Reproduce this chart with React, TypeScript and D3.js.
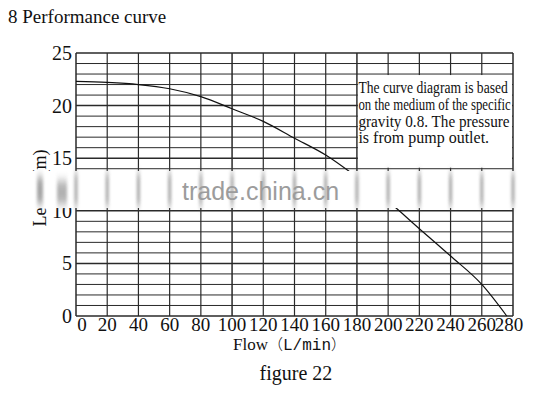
import React from "react";
import * as d3 from "d3";

const flow = [0, 20, 40, 60, 80, 100, 120, 140, 160, 180, 200, 220, 240, 260, 276];
const head = [22.3, 22.2, 22.0, 21.6, 20.85, 19.7, 18.5, 16.9, 15.3, 13.2, 10.9, 8.3, 5.7, 3.0, 0];
const xTicks = [0, 20, 40, 60, 80, 100, 120, 140, 160, 180, 200, 220, 240, 260, 280];
const yTicks = [0, 5, 10, 15, 20, 25];
const yGrid = d3.range(0, 26, 1);
const noteLines = [
  "The curve diagram is based",
  "on the medium of the specific",
  "gravity 0.8. The pressure",
  "is from pump outlet.",
];
const noteScale = [0.85, 0.8, 0.95, 1.0];
const title = "8 Performance curve";
const yLabel = "Length(m)";
const caption = "figure 22";
const watermark = "trade.china.cn";

export default function App() {
  const x = d3.scaleLinear().domain([0, 280]).range([76, 513]);
  const y = d3.scaleLinear().domain([0, 25]).range([316, 53]);
  const line = d3
    .line<number>()
    .x((_, i) => x(flow[i]))
    .y((d) => y(d))
    .curve(d3.curveMonotoneX);
  const serif = "'Liberation Serif', 'Times New Roman', serif";
  const gridColor = "#2a2a2a";
  const boxX0 = x(180);
  const boxX1 = x(280);
  const boxY0 = y(23);
  const boxY1 = y(14);
  const bandY0 = 171;
  const bandY1 = 208;
  return (
    <svg
      width={538}
      height={400}
      style={{ position: "absolute", left: 0, top: 0, background: "#fff" }}
    >
      <defs>
        <filter id="blurV" x="-200%" y="-50%" width="500%" height="200%">
          <feGaussianBlur stdDeviation="1.6 5" />
        </filter>
      </defs>
      <rect x={0} y={0} width={538} height={400} fill="#fff" />
      <text x={8} y={23} fontFamily={serif} fontSize={19} fill="#111">
        {title}
      </text>
      {yGrid.map((v) => (
        <line
          key={"h" + v}
          x1={x(0)}
          x2={x(280)}
          y1={y(v)}
          y2={y(v)}
          stroke={gridColor}
          strokeWidth={v % 5 === 0 ? 1.5 : 1}
        />
      ))}
      {xTicks.map((v) => (
        <line
          key={"v" + v}
          x1={x(v)}
          x2={x(v)}
          y1={y(0)}
          y2={y(25)}
          stroke={gridColor}
          strokeWidth={v === 100 || v === 180 || v === 0 || v === 280 ? 1.5 : 1.2}
        />
      ))}
      <rect
        x={boxX0 + 1}
        y={boxY0 + 1}
        width={boxX1 - boxX0 - 2}
        height={boxY1 - boxY0 - 2}
        fill="#fff"
      />
      {noteLines.map((t, i) => (
        <g key={t} transform={`translate(${boxX0 + 1.5},${93 + i * 16.8}) scale(${noteScale[i]},1)`}>
          <text x={0} y={0} fontFamily={serif} fontSize={16} fill="#111">
            {t}
          </text>
        </g>
      ))}
      <path d={line(head) || ""} fill="none" stroke="#111" strokeWidth={1.2} />
      {yTicks.map((v) => (
        <text
          key={"yt" + v}
          x={72}
          y={y(v)}
          dy="0.35em"
          textAnchor="end"
          fontFamily={serif}
          fontSize={20}
          fill="#111"
        >
          {v}
        </text>
      ))}
      {xTicks.map((v) => (
        <text
          key={"xt" + v}
          x={x(v) + (v === 0 ? 6 : v === 280 ? -4 : 0)}
          y={331}
          textAnchor="middle"
          fontFamily={serif}
          fontSize={19}
          fill="#111"
        >
          {v}
        </text>
      ))}
      <text
        transform="translate(46,188) rotate(-90)"
        textAnchor="middle"
        fontFamily={serif}
        fontSize={18}
        fill="#111"
      >
        {yLabel}
      </text>
      <text x={233} y={350} fontSize={17} fill="#111">
        <tspan fontFamily={serif}>Flow</tspan>
        <tspan fontFamily="'Noto Sans CJK SC'" fontWeight={300} fontSize={15}>
          （
        </tspan>
        <tspan fontFamily="'Liberation Mono', monospace" fontSize={16}>
          L/min
        </tspan>
        <tspan fontFamily="'Noto Sans CJK SC'" fontWeight={300} fontSize={15}>
          ）
        </tspan>
      </text>
      <text x={296} y={380} textAnchor="middle" fontFamily={serif} fontSize={20} fill="#111">
        {caption}
      </text>
      <rect x={30} y={bandY0} width={500} height={bandY1 - bandY0} fill="#fff" />
      <g filter="url(#blurV)" opacity={0.75}>
        {xTicks.map((v) => (
          <line
            key={"b" + v}
            x1={x(v)}
            x2={x(v)}
            y1={bandY0 + 2}
            y2={bandY1 - 2}
            stroke="#888"
            strokeWidth={3}
          />
        ))}
        <line x1={40} x2={40} y1={bandY0 + 6} y2={bandY1 - 4} stroke="#888" strokeWidth={6} />
        <line x1={62} x2={62} y1={bandY0 + 10} y2={bandY1 - 4} stroke="#999" strokeWidth={10} />
      </g>
      <text
        x={182}
        y={200}
        fontFamily="'Liberation Sans', Arial, sans-serif"
        fontSize={25}
        fill="#9c9c9c"
      >
        {watermark}
      </text>
    </svg>
  );
}
